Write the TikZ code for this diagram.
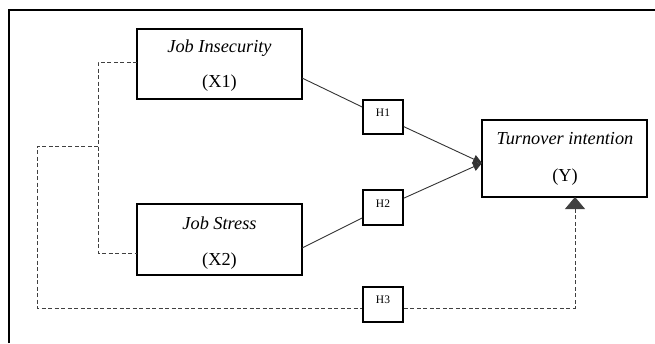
\documentclass[tikz,border=0pt]{standalone}
\usepackage{fontspec}
\setmainfont{Liberation Serif}
\usetikzlibrary{arrows.meta}
\begin{document}
\begin{tikzpicture}[x=1pt,y=-1pt,
  box/.style={draw=black,line width=1.6pt,fill=white,inner sep=0pt},
  varbox/.style={box,minimum width=165pt},
  hbox/.style={box,minimum width=40pt,minimum height=35pt},
  lbl/.style={font=\fontsize{18.3}{20}\selectfont,inner sep=0pt},
  hl/.style={font=\fontsize{11.5}{13}\selectfont,inner sep=0pt},
  link/.style={draw=black!80,line width=0.9pt,-{Triangle[length=9pt,width=9pt]}},
  seg/.style={draw=black!80,line width=0.9pt},
  dsh/.style={draw=black!75,line width=0.9pt,dash pattern=on 4pt off 2.5pt}]
\useasboundingbox (0,0) rectangle (655,343);

% outer frame (left and top edges)
\draw[line width=1.5pt] (9,343) -- (9,10) -- (656,10);

% variable boxes
\node[varbox,minimum height=70pt] (x1box) at (219.5,64) {};
\node[varbox,minimum height=71pt] (x2box) at (219.5,239.5) {};
\node[varbox,minimum height=77pt] (ybox) at (564.5,158.5) {};

\node[lbl] (x1name) at (219.5,48) {\itshape Job Insecurity};
\node[lbl] (x1code) at (219.5,83) {(X1)};
\node[lbl] (x2name) at (219.5,223) {\itshape Job Stress};
\node[lbl] (x2code) at (219.5,261) {(X2)};
\node[lbl] (yname) at (565,139) {\itshape Turnover intention};
\node[lbl] (ycode) at (565,177) {(Y)};

% connection points
\coordinate (x1out) at (302,78);
\coordinate (x2out) at (302,248);
\coordinate (yin) at (482,163);
\coordinate (x1in) at (137,62);
\coordinate (x2in) at (137,253);
\coordinate (jb) at (98,253);
\coordinate (j) at (98,146);
\coordinate (lc) at (37,308);
\coordinate (ytip) at (575,197);

% hypothesis boxes
\node[hbox,minimum height=34pt] (h1) at (383,117) {};
\node[hbox] (h2) at (383,207.5) {};
\node[hbox] (h3) at (383,304.5) {};
\node[hl] (h1t) at (383,113) {H1};
\node[hl] (h2t) at (383,204) {H2};
\node[hl] (h3t) at (383,300) {H3};

% direct effects
\draw[seg] (x1out) -- (h1);
\draw[link] (h1) -- (yin);
\draw[seg] (x2out) -- (h2);
\draw[link] (h2) -- (yin);

% joint effect
\draw[dsh] (x1in) -| (jb) -- (x2in);
\draw[dsh] (j) -| (lc) -- (h3.west |- lc);
\draw[dsh,-{Triangle[length=12pt,width=20pt]}] (h3.east |- lc) -| (ytip);
\end{tikzpicture}
\end{document}
